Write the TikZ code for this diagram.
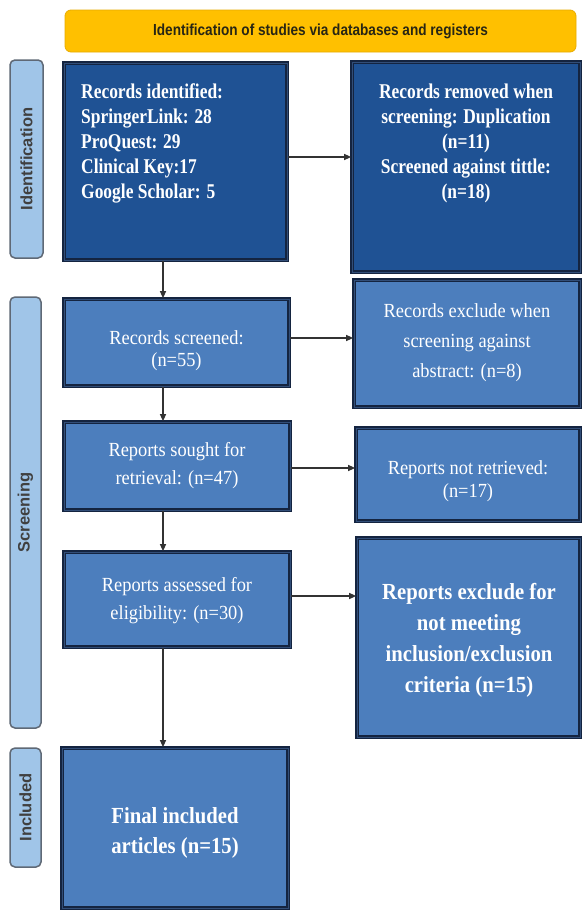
\documentclass[tikz,border=0pt]{standalone}
\usepackage{fontspec}
\setmainfont{Liberation Serif}
\newfontfamily\bodybold[FakeStretch=0.83]{Liberation Serif}
\newfontfamily\bigbold[FakeStretch=0.9]{Liberation Serif}
\newfontfamily\regserif[FakeStretch=0.92]{Liberation Serif}
\newfontfamily\bannerf[FakeStretch=0.85]{Liberation Sans}
\newfontfamily\sidef{Liberation Sans}
\usetikzlibrary{arrows.meta}
\definecolor{darkfill}{RGB}{31,82,148}
\definecolor{lightfill}{RGB}{76,126,189}
\definecolor{navy}{RGB}{20,36,64}
\definecolor{midnavy}{RGB}{50,78,120}
\definecolor{sidefill}{RGB}{160,197,232}
\definecolor{sideborder}{RGB}{95,105,118}
\definecolor{gold}{RGB}{255,192,0}
\definecolor{goldborder}{RGB}{232,172,0}
\definecolor{bannertext}{RGB}{40,38,20}
\tikzset{
  frame/.style={rectangle, draw=navy, line width=1.7pt, double=midnavy, double distance=0.9pt, inner sep=0pt},
  darkbox/.style={frame, fill=darkfill},
  lightbox/.style={frame, fill=lightfill},
  sidebar/.style={rectangle, rounded corners=5pt, draw=sideborder, line width=1.5pt, fill=sidefill, inner sep=0pt},
  banner/.style={rectangle, rounded corners=6pt, draw=goldborder, line width=0.8pt, fill=gold, inner sep=0pt},
  arr/.style={draw=black!80, line width=1.3pt, -{Triangle[length=7pt,width=6pt]}},
  boxtext/.style={text=white, inner sep=0pt, align=center},
  sidetext/.style={rotate=90, text=black!75, inner sep=0pt, font=\sidef\bfseries\fontsize{16.5}{18}\selectfont},
}
\begin{document}
\begin{tikzpicture}[x=1pt,y=-1pt]
\fill[white] (0,0) rectangle (581,910);
\useasboundingbox (0,0) rectangle (581,910);

% banner
\node[banner, minimum width=511pt, minimum height=42pt] (ban) at (320.5,31) {};
\node[text=bannertext, inner sep=0pt, font=\bannerf\bfseries\fontsize{16}{18}\selectfont] (bant) at (ban.center) {Identification of studies via databases and registers};

% side bars
\node[sidebar, minimum width=33pt, minimum height=198pt] (s1) at (26.5,159) {};
\node[sidebar, minimum width=31pt, minimum height=431pt] (s2) at (25.5,512.5) {};
\node[sidebar, minimum width=31pt, minimum height=119pt] (s3) at (25.5,807.5) {};
\node[sidetext] (s1t) at (s1.center) {Identification};
\node[sidetext] (s2t) at (s2.center) {Screening};
\node[sidetext] (s3t) at (s3.center) {Included};

% boxes
\node[darkbox, minimum width=223pt, minimum height=197pt] (b1) at (175.5,161.5) {};
\node[darkbox, minimum width=228pt, minimum height=210pt] (b2) at (466,167) {};
\node[lightbox, minimum width=225pt, minimum height=87pt] (b3) at (176.5,342.5) {};
\node[lightbox, minimum width=226pt, minimum height=127pt] (b4) at (467,343.5) {};
\node[lightbox, minimum width=226pt, minimum height=88pt] (b5) at (177,466) {};
\node[lightbox, minimum width=224pt, minimum height=93pt] (b6) at (468,474.5) {};
\node[lightbox, minimum width=226pt, minimum height=95pt] (b7) at (177,599.5) {};
\node[lightbox, minimum width=223pt, minimum height=199pt] (b8) at (468.5,637.5) {};
\node[lightbox, minimum width=226pt, minimum height=160pt] (b9) at (175,828) {};

% texts
\node[boxtext, align=left, anchor=north west, font=\bodybold\bfseries\fontsize{21}{25}\selectfont] (b1t) at (81,83.5)
  {Records identified:\\SpringerLink: 28\\ProQuest: 29\\Clinical Key:17\\Google Scholar: 5};
\node[boxtext, anchor=north, font=\bodybold\bfseries\fontsize{21}{25}\selectfont] (b2t) at (466,83.5)
  {Records removed when\\screening: Duplication\\(n=11)\\Screened against tittle:\\(n=18)};
\node[boxtext, font=\regserif\fontsize{20}{22}\selectfont] (b3t) at (176.5,351) {Records screened:\\(n=55)};
\node[boxtext, font=\regserif\fontsize{20}{30}\selectfont] (b4t) at (467,343) {Records exclude when\\screening against\\abstract: (n=8)};
\node[boxtext, font=\regserif\fontsize{20}{28}\selectfont] (b5t) at (177,466) {Reports sought for\\retrieval: (n=47)};
\node[boxtext, font=\regserif\fontsize{20}{23}\selectfont] (b6t) at (468,481) {Reports not retrieved:\\(n=17)};
\node[boxtext, font=\regserif\fontsize{20}{28}\selectfont] (b7t) at (177,601) {Reports assessed for\\eligibility: (n=30)};
\node[boxtext, font=\bigbold\bfseries\fontsize{23}{31}\selectfont] (b8t) at (469,640) {Reports exclude for\\not meeting\\inclusion/exclusion\\criteria (n=15)};
\node[boxtext, font=\bigbold\bfseries\fontsize{23}{30}\selectfont] (b9t) at (175,833) {Final included\\articles (n=15)};

% connectors
\coordinate (h1) at (0,157);
\coordinate (h2) at (0,338);
\coordinate (h3) at (0,468);
\coordinate (h4) at (0,596);
\coordinate (vx) at (163,0);
\draw[arr] (b1.east |- h1) -- (b2.west |- h1);
\draw[arr] (b3.east |- h2) -- (b4.west |- h2);
\draw[arr] (b5.east |- h3) -- (b6.west |- h3);
\draw[arr] (b7.east |- h4) -- (b8.west |- h4);
\draw[arr] (b1.south -| vx) -- (b3.north -| vx);
\draw[arr] (b3.south -| vx) -- (b5.north -| vx);
\draw[arr] (b5.south -| vx) -- (b7.north -| vx);
\draw[arr] (b7.south -| vx) -- (b9.north -| vx);
\end{tikzpicture}
\end{document}
